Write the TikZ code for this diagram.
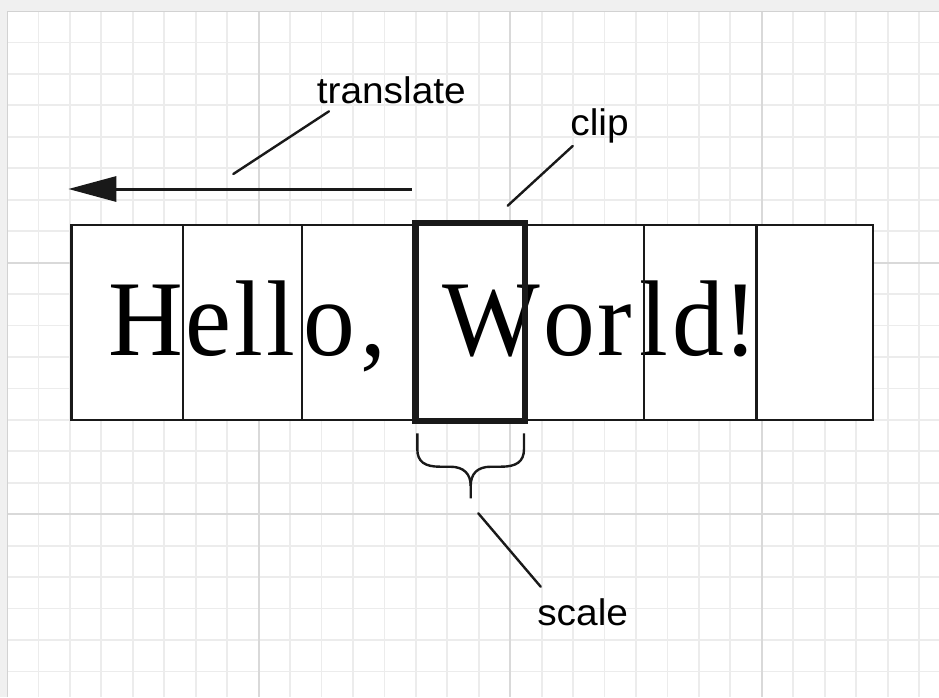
\documentclass[tikz,border=0pt]{standalone}
\usepackage{fontspec}
\usepackage{graphicx}
\usetikzlibrary{arrows.meta}
\newfontfamily\hwfont{Liberation Serif}
\newfontfamily\lblfont{Liberation Sans}
\begin{document}
\begin{tikzpicture}[x=1pt,y=-1pt,
  minorgrid/.style={draw=gray!15, line width=1.8pt},
  majorgrid/.style={draw=gray!30, line width=2.2pt},
  cellline/.style={draw=black!90, line width=2.5pt},
  clipbox/.style={draw=black!90, line width=6.5pt},
  leader/.style={draw=black!90, line width=2.4pt, line cap=round},
  movearrow/.style={draw=black!90, line width=3pt, -{Triangle[length=48pt,width=25pt]}},
  lbl/.style={inner sep=0pt, anchor=base west, font=\lblfont\fontsize{37}{40}\selectfont},
]
\useasboundingbox (0,0) rectangle (939,697);
\clip (0,0) rectangle (939,697);
% window background and sheet
\fill[gray!12] (0,0) rectangle (939,697);
\fill[white] (7,11) rectangle (939,697);
% grid
\foreach \i in {1,...,29}{
  \pgfmathsetmacro{\gx}{7+31.45*\i}
  \draw[minorgrid] (\gx,11) -- (\gx,697);
}
\foreach \j in {1,...,21}{
  \pgfmathsetmacro{\gy}{11+31.45*\j}
  \draw[minorgrid] (7,\gy) -- (939,\gy);
}
\foreach \i in {8,16,24}{
  \pgfmathsetmacro{\gx}{7+31.45*\i}
  \draw[majorgrid] (\gx,11) -- (\gx,697);
}
\foreach \j in {8,16}{
  \pgfmathsetmacro{\gy}{11+31.45*\j}
  \draw[majorgrid] (7,\gy) -- (939,\gy);
}
\draw[gray!35, line width=1pt] (7,697) -- (7,11) -- (939,11);
% strip of cells
\fill[white] (71.5,225) rectangle (872.8,420);
\node[inner sep=0pt, anchor=base west] (hw) at (108.7,355.7)
  {\scalebox{1}[1.04]{\hwfont\fontsize{103.5}{110}\selectfont H\kern2pt e\kern3.3pt l\kern2.5pt l\kern8.9pt o\kern5.4pt ,\ \kern29.9pt W\kern3.5pt o\kern2pt r\kern8pt l\kern4.2pt d\kern-1pt !}};
\draw[cellline] (71.5,225) rectangle (872.8,420);
\foreach \dx in {183,302,643.8,756.7}{
  \draw[cellline] (\dx,225) -- (\dx,420);
}
\draw[clipbox] (415.5,223) rectangle (525,421);
% translate arrow
\coordinate (moveFrom) at (411.5,189);
\coordinate (moveTo) at (68.3,189);
\draw[movearrow] (moveFrom) -- (moveTo);
% labels
\node[lbl] (translate) at (316.6,103) {\scalebox{1.05}[1]{translate}};
\node[lbl] (clip) at (570.2,135) {\scalebox{1.05}[1]{clip}};
\node[lbl] (scale) at (537.1,625) {\scalebox{1.05}[1]{scale}};
% leaders
\coordinate (trA) at (329,111.3);
\coordinate (trB) at (233.3,174);
\coordinate (clA) at (572.7,146);
\coordinate (clB) at (507.7,205.7);
\coordinate (scA) at (478.3,513.3);
\coordinate (scB) at (540.7,586.7);
\draw[leader] (trA) -- (trB);
\draw[leader] (clA) -- (clB);
\draw[leader] (scA) -- (scB);
% brace
\draw[leader, line cap=butt] (417.3,433.3) -- (417.3,449)
  .. controls (417.3,462) and (425,466.7) .. (440,466.7) -- (450,466.7)
  .. controls (464,466.7) and (470.7,474) .. (470.7,486) -- (470.7,498.3);
\draw[leader, line cap=butt] (524,433.3) -- (524,449)
  .. controls (524,462) and (516,466.7) .. (501,466.7) -- (491,466.7)
  .. controls (477,466.7) and (470.7,474) .. (470.7,486);
\end{tikzpicture}
\end{document}
